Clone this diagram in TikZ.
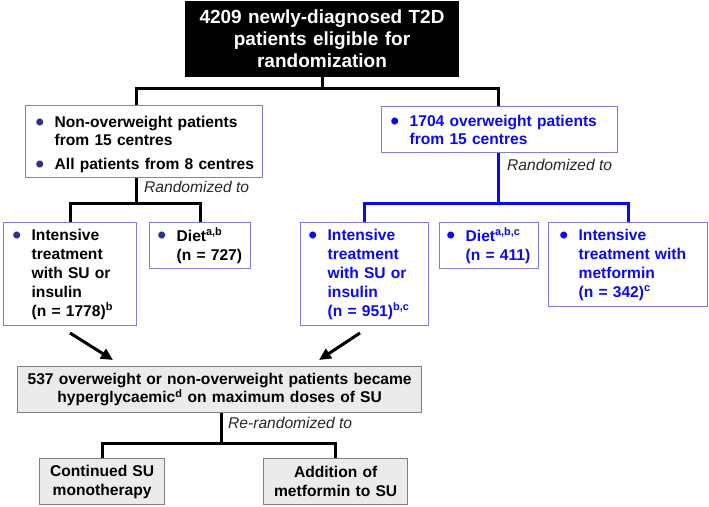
\documentclass[tikz,border=0pt]{standalone}
\usepackage{fontspec}
\usepackage{graphicx}
\setmainfont{Liberation Sans}
\usetikzlibrary{arrows.meta,calc}
\definecolor{navy}{RGB}{46,49,146}
\definecolor{bblue}{RGB}{10,10,240}
\definecolor{bord}{RGB}{125,125,215}
\definecolor{gfill}{RGB}{235,235,235}
\definecolor{gbord}{RGB}{128,128,128}
\newcommand{\bl}[1]{\makebox[18pt][l]{\hspace*{-1pt}\textcolor{#1}{\raisebox{-0.35ex}{\scalebox{1.55}{\textbullet}}}}}
\newcommand{\ind}{\hspace*{18pt}}
\begin{document}
\begin{tikzpicture}[x=1pt,y=-1pt,
  body/.style={font={\fontsize{15.6}{19}\selectfont\bfseries}},
  wbox/.style={draw=bord, line width=1.3pt, fill=white, inner ysep=0pt,
    anchor=north west, align=left, body},
  gbox/.style={draw=gbord, line width=1.3pt, fill=gfill, inner ysep=0pt,
    anchor=north west, align=center, body},
  blk/.style={line width=3pt, black},
  blu/.style={line width=3pt, bblue},
  arr/.style={line width=3pt, black, -{Triangle[length=12pt,width=11pt]}},
  lab/.style={font={\fontsize{15.6}{19}\selectfont\itshape}, text=black!85, inner sep=0pt, anchor=west}]
\useasboundingbox (0,0) rectangle (709,506);

% top box
\node[draw=black, fill=black, text=white, line width=1pt, anchor=north west,
  inner xsep=10pt, inner ysep=0pt, text width=253pt, minimum height=75pt, align=center,
  font={\fontsize{19}{22}\selectfont\bfseries}] (top) at (185,1)
  {4209 newly-diagnosed T2D\\patients eligible for\\randomization};

% second level
\node[wbox, inner xsep=11pt, text width=215pt, minimum height=72pt,
  font={\fontsize{15.6}{18}\selectfont\bfseries}] (lbox) at (25,105)
  {\mbox{\rule{0pt}{17pt}\bl{navy}Non-overweight patients}\\\mbox{\ind from 15 centres}\\[6pt]\mbox{\bl{navy}All patients from 8 centres}};
\node[wbox, inner xsep=10pt, text width=216pt, minimum height=46pt, text=bblue,
  font={\fontsize{15.6}{18}\selectfont\bfseries}] (rbox) at (381,106)
  {\mbox{\bl{bblue}1704 overweight patients}\\\mbox{\ind from 15 centres}};

% third level left
\node[wbox, inner xsep=10pt, text width=113pt, minimum height=103pt] (l1) at (3,222)
  {\bl{navy}Intensive\\\mbox{\ind treatment}\\\mbox{\ind with SU or}\\\ind insulin\\\mbox{\ind (n = 1778)\textsuperscript{b}}};
\node[wbox, inner xsep=9pt, text width=83pt, minimum height=46pt] (l2) at (149,222)
  {\mbox{\bl{navy}Diet\textsuperscript{a,b}}\\\mbox{\ind (n = 727)}};

% third level right
\node[wbox, inner xsep=9pt, text width=110pt, minimum height=103pt, text=bblue] (r1) at (300,222)
  {\bl{bblue}Intensive\\\mbox{\ind treatment}\\\mbox{\ind with SU or}\\\ind insulin\\\mbox{\ind (n = 951)\textsuperscript{b,c}}};
\node[wbox, inner xsep=8pt, text width=83pt, minimum height=46pt, text=bblue] (r2) at (439,222)
  {\mbox{\bl{bblue}Diet\textsuperscript{a,b,c}}\\\mbox{\ind (n = 411)}};
\node[wbox, inner xsep=12pt, text width=135pt, minimum height=84pt, text=bblue] (r3) at (548,222)
  {\bl{bblue}Intensive\\\mbox{\ind treatment with}\\\ind metformin\\\mbox{\ind (n = 342)\textsuperscript{c}}};

% bottom
\node[gbox, inner xsep=8pt, text width=388pt, minimum height=46pt,
  font={\fontsize{15.6}{18}\selectfont\bfseries}] (bot) at (17,366)
  {\mbox{537 overweight or non-overweight patients became}\\\mbox{hyperglycaemic\textsuperscript{d} on maximum doses of SU}};
\node[gbox, inner xsep=6pt, text width=113pt, minimum height=46pt] (c1) at (39,458)
  {Continued SU\\monotherapy};
\node[gbox, inner xsep=6pt, text width=132pt, minimum height=46pt] (c2) at (263,458)
  {Addition of\\metformin to SU};

% connectors top
\coordinate (hL) at (136,88);
\coordinate (hR) at (498,88);
\draw[blk] (top.south) -- (top.south |- hL);
\draw[blk] (hL |- lbox.north) -- (hL) -- (hR) -- (hR |- rbox.north);

% left randomization
\coordinate (jl) at (136,203);
\draw[blk] (jl |- lbox.south) -- (jl);
\draw[blk] (l1.north) -- (l1.north |- jl) -- (l2.north |- jl) -- (l2.north);
\node[lab] (randL) at (144,187) {Randomized to};

% right randomization
\coordinate (jr) at (498,203);
\draw[blu] (jr |- rbox.south) -- (jr);
\draw[blu] (r1.north) -- (r1.north |- jr) -- (r3.north |- jr) -- (r3.north);
\node[lab] (randR) at (507,165) {Randomized to};

% arrows
\coordinate (a1s) at (70,333);
\coordinate (a1e) at (113,360);
\coordinate (a2s) at (360,333);
\coordinate (a2e) at (319,360);
\draw[arr] (a1s) -- (a1e);
\draw[arr] (a2s) -- (a2e);

% re-randomization
\coordinate (jb) at (221,443);
\draw[blk] (jb |- bot.south) -- (jb);
\draw[blk] (c1.north) -- (c1.north |- jb) -- (c2.north |- jb) -- (c2.north);
\node[lab] (rer) at (228,423) {Re-randomized to};
\end{tikzpicture}
\end{document}
